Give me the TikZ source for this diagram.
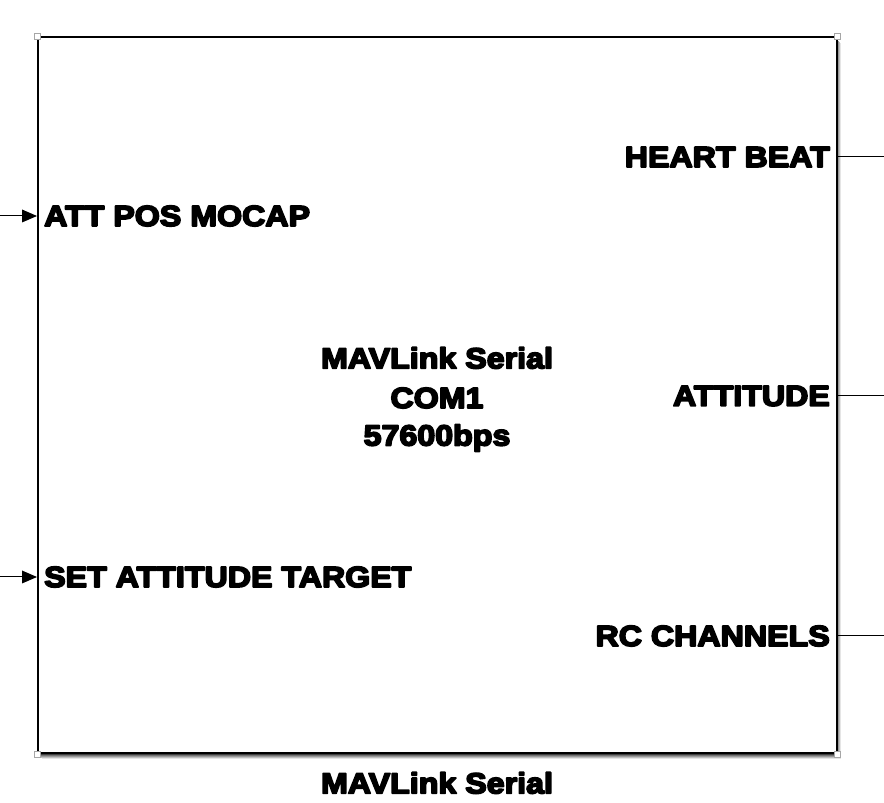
\documentclass[tikz,border=0pt]{standalone}
\usepackage{fontspec}
\newfontfamily\blk{Liberation Sans Bold}[FakeStretch=1.11,FakeBold=6]
\begin{document}
\begin{tikzpicture}[x=1pt,y=1pt,
  lbl/.style={font=\blk\fontsize{29}{34}\selectfont, inner sep=0pt, line join=round, miter limit=1},
  handle/.style={draw=gray!70, fill=white, line width=0.8pt, minimum size=6pt, inner sep=0pt},
  wire/.style={line width=1pt}]
\useasboundingbox (0,0) rectangle (884,803);
% shadow
\foreach \o/\c in {5/10,4/25,3/40,2/55,1/75}{
  \fill[black!\c] (37+\o,49-\o) rectangle (836+\o,765-\o);
}
\node[draw, line width=1.5pt, fill=white, minimum width=799pt, minimum height=716pt, inner sep=0pt, anchor=south west] (block) at (37,49) {};
% handles
\node[handle] (h1) at (block.north west) {};
\node[handle] (h2) at (block.north east) {};
\node[handle] (h3) at (block.south west) {};
\node[handle] (h4) at (block.south east) {};
% input ports
\node[lbl, anchor=west] (in1) at (44,587) {ATT POS MOCAP};
\node[lbl, anchor=west] (in2) at (44,226) {SET ATTITUDE TARGET};
\coordinate (src1) at (0,587);
\coordinate (src2) at (0,226);
\coordinate (p1) at (block.west |- in1);
\coordinate (p2) at (block.west |- in2);
\draw[wire] (src1) -- ([xshift=-12pt]p1);
\draw[wire] (src2) -- ([xshift=-12pt]p2);
\fill (p1) -- ++(-15,6.5) -- ++(0,-13) -- cycle;
\fill (p2) -- ++(-15,6.5) -- ++(0,-13) -- cycle;
% output ports
\node[lbl, anchor=east] (out1) at (830,646) {HEART BEAT};
\node[lbl, anchor=east] (out2) at (830,407) {ATTITUDE};
\node[lbl, anchor=east] (out3) at (830,167) {RC CHANNELS};
\coordinate (q1) at (block.east |- out1);
\coordinate (q2) at (block.east |- out2);
\coordinate (q3) at (block.east |- out3);
\coordinate (d1) at (884,646);
\coordinate (d2) at (884,407);
\coordinate (d3) at (884,167);
\draw[wire] (q1) -- (d1);
\draw[wire] (q2) -- (d2);
\draw[wire] (q3) -- (d3);
% centre text
\node[lbl] (t1) at (437,445) {MAVLink Serial};
\node[lbl] (t2) at (437,405) {COM1};
\node[lbl] (t3) at (437,365) {57600bps};
% name
\node[lbl] (name) at (437,20) {MAVLink Serial};
\end{tikzpicture}
\end{document}
